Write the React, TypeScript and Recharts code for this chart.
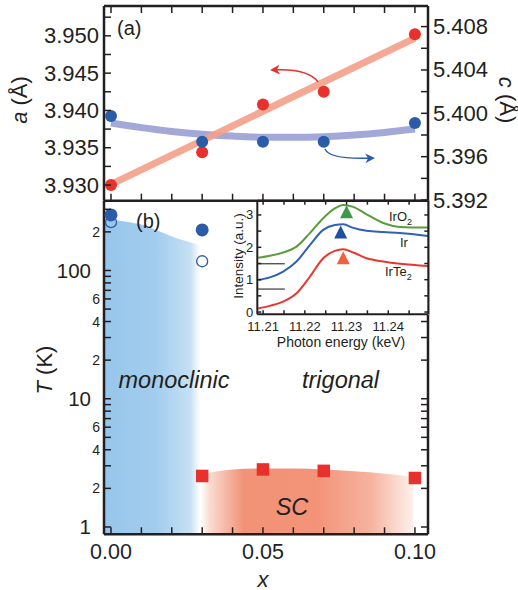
import React from 'react';
import { ComposedChart, Line, Scatter, Area, XAxis, YAxis, ReferenceLine } from 'recharts';

const FONT = '"Liberation Sans", Arial, Helvetica, sans-serif';
const INK = '#231f20';

// ---- (a) lattice constants vs x ----
const xDoping = [0, 0.03, 0.05, 0.07, 0.1];
const aLattice = [3.93, 3.9344, 3.9408, 3.9425, 3.9502];
const cLattice = [5.39975, 5.39738, 5.39738, 5.39738, 5.3991];
const aFitX = [0, 0.1];
const aFitVals = [3.9301, 3.9497];
const cFitX = [0, 0.01, 0.02, 0.03, 0.04, 0.05, 0.06, 0.07, 0.08, 0.09, 0.1];
const cFitVals = [5.3991, 5.39868, 5.39833, 5.39807, 5.3979, 5.3978, 5.39779, 5.39785, 5.398, 5.39824, 5.39855];

const xTicks = [0, 0.01, 0.02, 0.03, 0.04, 0.05, 0.06, 0.07, 0.08, 0.09, 0.1];
const aTicks = [3.93, 3.9325, 3.935, 3.9375, 3.94, 3.9425, 3.945, 3.9475, 3.95, 3.9525];
const cTicks = [5.392, 5.394, 5.396, 5.398, 5.4, 5.402, 5.404, 5.406, 5.408];

// ---- (b) phase diagram ----
const tsX = [0, 0.03];
const tsFilled = [271, 207];
const tsOpen = [238, 118];
const tcX = [0.03, 0.05, 0.07, 0.1];
const tcVals = [2.5, 2.81, 2.74, 2.41];
const monoX = [-0.0023, 0.0052, 0.0106, 0.0161, 0.0216, 0.0271, 0.0293];
const monoTop = [251, 240, 226, 201, 178, 163, 158];
const scX = [0.0295, 0.035, 0.04, 0.05, 0.06, 0.07, 0.085, 0.0995];
const scTop = [2.56, 2.72, 2.81, 2.86, 2.86, 2.81, 2.67, 2.46];
const tTicks = [1, 2, 3, 4, 5, 6, 7, 8, 9, 10, 20, 30, 40, 50, 60, 70, 80, 90, 100, 200, 300];
const tLabels: Record<number, string> = { 1: '1', 2: '2', 4: '4', 6: '6', 10: '10', 20: '2', 40: '4', 60: '6', 100: '100', 200: '2' };
const T_MIN = 0.877;

// ---- inset XAS spectra ----
const energy = [11.2088, 11.2116, 11.2148, 11.218, 11.2212, 11.2244, 11.2272, 11.2292, 11.2316, 11.2348, 11.2388, 11.2428, 11.2496];
const irO2 = [1.68, 1.74, 1.84, 2.02, 2.44, 2.9, 3.2, 3.31, 3.25, 3.02, 2.75, 2.63, 2.61];
const irMetal = [0.99, 1.07, 1.25, 1.56, 2.07, 2.54, 2.69, 2.71, 2.6, 2.51, 2.47, 2.44, 2.35];
const irTe2 = [0.11, 0.19, 0.32, 0.58, 1.09, 1.66, 1.89, 1.94, 1.84, 1.66, 1.56, 1.49, 1.42];
const peakE = [11.23, 11.2286, 11.2292];
const peakI = [3.08, 2.46, 1.66];
const peakColors = ['#3d9b47', '#1f4f9e', '#f0603c'];
const offsetLevels = [1.49, 0.71];
const eTicks = [11.21, 11.215, 11.22, 11.225, 11.23, 11.235, 11.24, 11.245];
const iTicks = [0, 0.5, 1, 1.5, 2, 2.5, 3];

const pts = (xs: number[], ys: number[]) => xs.map((x, i) => ({ x, y: ys[i] }));
const isMult = (v: number, step: number) => Math.abs(v / step - Math.round(v / step)) < 1e-6;

type Side = 'left' | 'right' | 'top' | 'bottom';
type Lab = { text: string; size: number; gap: number } | null;

// inward tick marks; labels (if any) sit outside the frame
const makeTick = (side: Side, len: number, label?: (v: number) => Lab) => (props: any) => {
  const { x, y, payload } = props;
  const v = payload.value as number;
  let line;
  if (side === 'left') line = <line x1={x} y1={y} x2={x + len} y2={y} stroke={INK} strokeWidth={1.5} />;
  else if (side === 'right') line = <line x1={x} y1={y} x2={x - len} y2={y} stroke={INK} strokeWidth={1.5} />;
  else if (side === 'top') line = <line x1={x} y1={y} x2={x} y2={y + len} stroke={INK} strokeWidth={1.5} />;
  else line = <line x1={x} y1={y} x2={x} y2={y - len} stroke={INK} strokeWidth={1.5} />;
  const l = label ? label(v) : null;
  let text = null;
  if (l) {
    const common = { fill: INK, fontSize: l.size, fontFamily: FONT, dominantBaseline: 'central' as const };
    if (side === 'left') text = <text x={x - l.gap} y={y} textAnchor="end" {...common}>{l.text}</text>;
    else if (side === 'right') text = <text x={x + l.gap} y={y} textAnchor="start" {...common}>{l.text}</text>;
    else if (side === 'bottom') text = <text x={x} y={y + l.gap} textAnchor="middle" {...common}>{l.text}</text>;
  }
  return <g>{line}{text}</g>;
};

const dot = (fill: string, r: number) => (p: any) => <circle cx={p.cx} cy={p.cy} r={r} fill={fill} />;
const ring = (stroke: string, r: number) => (p: any) => <circle cx={p.cx} cy={p.cy} r={r} fill="none" stroke={stroke} strokeWidth={1.3} />;
const square = (fill: string, s: number) => (p: any) => <rect x={p.cx - s / 2} y={p.cy - s / 2} width={s} height={s} fill={fill} />;
const triangle = (p: any) => {
  const c = peakColors[p.index % peakColors.length];
  return <polygon points={`${p.cx},${p.cy - 7} ${p.cx - 6.5},${p.cy + 6} ${p.cx + 6.5},${p.cy + 6}`} fill={c} />;
};

const axisLine = { stroke: INK, strokeWidth: 2.5 };
const thinAxis = { stroke: INK, strokeWidth: 2 };
const X_DOMAIN: [number, number] = [-0.0023, 0.1043];

const TopPanel = () => (
  <ComposedChart width={518} height={590} margin={{ top: 5, left: 103, right: 89, bottom: 388.3 }}>
    <XAxis xAxisId="b" type="number" dataKey="x" domain={X_DOMAIN} ticks={xTicks} interval={0} allowDataOverflow
      height={1} tickSize={0} tickMargin={0} axisLine={axisLine} tick={makeTick('bottom', 7)} />
    <XAxis xAxisId="t" orientation="top" type="number" dataKey="x" domain={X_DOMAIN} ticks={xTicks} interval={0} allowDataOverflow
      height={1} tickSize={0} tickMargin={0} axisLine={axisLine} tick={makeTick('top', 7)} />
    <YAxis yAxisId="a" type="number" domain={[3.9279, 3.954]} ticks={aTicks} interval={0} allowDataOverflow
      width={1} tickSize={0} tickMargin={0} axisLine={axisLine}
      tick={makeTick('left', 7, v => (isMult(v, 0.005) ? { text: v.toFixed(3), size: 22, gap: 5 } : null))} />
    <YAxis yAxisId="c" orientation="right" type="number" domain={[5.39194, 5.4099]} ticks={cTicks} interval={0} allowDataOverflow
      width={1} tickSize={0} tickMargin={0} axisLine={axisLine}
      tick={makeTick('right', 7, v => (isMult(v, 0.004) ? { text: v.toFixed(3), size: 22, gap: 5 } : null))} />
    <Line xAxisId="b" yAxisId="c" data={pts(cFitX, cFitVals)} dataKey="y" type="monotone" stroke="#a2a9d9" strokeWidth={7} dot={false} isAnimationActive={false} />
    <Line xAxisId="b" yAxisId="a" data={pts(aFitX, aFitVals)} dataKey="y" type="linear" stroke="#f4a088" strokeOpacity={0.9} strokeWidth={7} dot={false} isAnimationActive={false} />
    <Scatter xAxisId="b" yAxisId="a" data={pts(xDoping, aLattice)} dataKey="y" shape={dot('#e8302c', 6)} isAnimationActive={false} />
    <Scatter xAxisId="b" yAxisId="c" data={pts(xDoping, cLattice)} dataKey="y" shape={dot('#2b5ca8', 6)} isAnimationActive={false} />
  </ComposedChart>
);

const BottomPanel = () => (
  <ComposedChart width={518} height={590} margin={{ top: 200.7, left: 103, right: 89, bottom: 54.7 }}>
    <defs>
      <linearGradient id="monoFill" x1="0" y1="0" x2="1" y2="0">
        <stop offset="0" stopColor="#96c6eb" />
        <stop offset="0.55" stopColor="#a3cdee" />
        <stop offset="0.9" stopColor="#c6e0f4" />
        <stop offset="1" stopColor="#ffffff" />
      </linearGradient>
      <linearGradient id="scFill" x1="0" y1="0" x2="1" y2="0">
        <stop offset="0" stopColor="#ffffff" />
        <stop offset="0.04" stopColor="#fbdcd2" />
        <stop offset="0.2" stopColor="#f29378" />
        <stop offset="0.55" stopColor="#f39479" />
        <stop offset="0.8" stopColor="#f6b39f" />
        <stop offset="1" stopColor="#fdf1ec" />
      </linearGradient>
    </defs>
    <XAxis type="number" dataKey="x" domain={X_DOMAIN} ticks={xTicks} interval={0} allowDataOverflow
      height={1} tickSize={0} tickMargin={0} axisLine={axisLine}
      tick={makeTick('bottom', 7, v => (isMult(v, 0.05) ? { text: v.toFixed(2), size: 21.5, gap: 18 } : null))} />
    <YAxis yAxisId="l" type="number" scale="log" domain={[T_MIN, 350]} ticks={tTicks} interval={0} allowDataOverflow
      width={1} tickSize={0} tickMargin={0} axisLine={axisLine}
      tick={makeTick('left', 7, v => {
        const t = tLabels[v];
        if (!t) return null;
        const big = v === 1 || v === 10 || v === 100;
        return { text: t, size: big ? 20.5 : 14, gap: big ? 13 : 4 };
      })} />
    <YAxis yAxisId="r" orientation="right" type="number" scale="log" domain={[T_MIN, 350]} ticks={tTicks} interval={0} allowDataOverflow
      width={1} tickSize={0} tickMargin={0} axisLine={axisLine} tick={makeTick('right', 7)} />
    <Area yAxisId="l" data={monoX.map((x, i) => ({ x, band: [T_MIN, monoTop[i]] }))} dataKey="band" type="monotone"
      stroke="none" fill="url(#monoFill)" fillOpacity={1} isAnimationActive={false} />
    <Area yAxisId="l" data={scX.map((x, i) => ({ x, band: [T_MIN, scTop[i]] }))} dataKey="band" type="monotone"
      stroke="none" fill="url(#scFill)" fillOpacity={1} isAnimationActive={false} />
    <Scatter yAxisId="l" data={pts(tsX, tsOpen)} dataKey="y" shape={ring('#2b5ca8', 5.5)} isAnimationActive={false} />
    <Scatter yAxisId="l" data={pts(tsX, tsFilled)} dataKey="y" shape={dot('#2b5ca8', 6.5)} isAnimationActive={false} />
    <Scatter yAxisId="l" data={pts(tcX, tcVals)} dataKey="y" shape={square('#e8302c', 12.5)} isAnimationActive={false} />
  </ComposedChart>
);

const E_DOMAIN: [number, number] = [11.2086, 11.2496];

const Inset = () => (
  <ComposedChart width={518} height={590} margin={{ top: 199.7, left: 256.3, right: 88.7, bottom: 274.7 }}>
    <XAxis xAxisId="b" type="number" dataKey="x" domain={E_DOMAIN} ticks={eTicks} interval={0} allowDataOverflow
      height={1} tickSize={0} tickMargin={0} axisLine={thinAxis}
      tick={makeTick('bottom', 4, v => (isMult(v - 11.2, 0.01) ? { text: v.toFixed(2), size: 13, gap: 12 } : null))} />
    <XAxis xAxisId="t" orientation="top" type="number" dataKey="x" domain={E_DOMAIN} ticks={eTicks} interval={0} allowDataOverflow
      height={1} tickSize={0} tickMargin={0} axisLine={thinAxis} tick={makeTick('top', 4)} />
    <YAxis yAxisId="l" type="number" domain={[-0.07, 3.44]} ticks={iTicks} interval={0} allowDataOverflow
      width={1} tickSize={0} tickMargin={0} axisLine={thinAxis}
      tick={makeTick('left', 4, v => (isMult(v, 1) ? { text: String(v), size: 13, gap: 4 } : null))} />
    <YAxis yAxisId="r" orientation="right" type="number" domain={[-0.07, 3.44]} ticks={iTicks} interval={0} allowDataOverflow
      width={1} tickSize={0} tickMargin={0} axisLine={thinAxis} tick={makeTick('right', 4)} />
    {offsetLevels.map(lv => (
      <ReferenceLine key={lv} xAxisId="b" yAxisId="l" segment={[{ x: 11.2086, y: lv }, { x: 11.2152, y: lv }]} stroke="#111" strokeWidth={1} />
    ))}
    <Line xAxisId="b" yAxisId="l" data={pts(energy, irO2)} dataKey="y" type="monotone" stroke="#5b9c3c" strokeWidth={2} dot={false} isAnimationActive={false} />
    <Line xAxisId="b" yAxisId="l" data={pts(energy, irMetal)} dataKey="y" type="monotone" stroke="#2f62b6" strokeWidth={2} dot={false} isAnimationActive={false} />
    <Line xAxisId="b" yAxisId="l" data={pts(energy, irTe2)} dataKey="y" type="monotone" stroke="#e8362f" strokeWidth={2} dot={false} isAnimationActive={false} />
    <Scatter xAxisId="b" yAxisId="l" data={pts(peakE, peakI)} dataKey="y" shape={triangle} isAnimationActive={false} />
  </ComposedChart>
);

const Labels = () => (
  <svg width={518} height={590} style={{ position: 'absolute', left: 0, top: 0, pointerEvents: 'none' }} fontFamily={FONT} fill={INK}>
    <defs>
      <marker id="headR" viewBox="0 0 10 10" refX="8" refY="5" markerWidth="7" markerHeight="7" orient="auto">
        <path d="M0,0 L10,5 L0,10 L3,5 z" fill="#e8302c" />
      </marker>
      <marker id="headB" viewBox="0 0 10 10" refX="8" refY="5" markerWidth="7" markerHeight="7" orient="auto">
        <path d="M0,0 L10,5 L0,10 L3,5 z" fill="#2b5ca8" />
      </marker>
    </defs>
    <text x={117} y={35} fontSize={20}>(a)</text>
    <text x={136} y={228} fontSize={20}>(b)</text>
    <path d="M318,82 Q308,68 272,70" fill="none" stroke="#e8302c" strokeWidth={1.4} markerEnd="url(#headR)" />
    <path d="M325,149 Q330,160 373,158" fill="none" stroke="#2b5ca8" strokeWidth={1.4} markerEnd="url(#headB)" />
    <text transform="translate(19,100) rotate(-90)" textAnchor="middle" dominantBaseline="central" fontSize={22}>
      <tspan fontStyle="italic">a</tspan> (Å)
    </text>
    <text transform="translate(507,100) rotate(90)" textAnchor="middle" dominantBaseline="central" fontSize={22}>
      <tspan fontStyle="italic">c</tspan> (Å)
    </text>
    <text transform="translate(44,370) rotate(-90)" textAnchor="middle" dominantBaseline="central" fontSize={22}>
      <tspan fontStyle="italic">T</tspan> (K)
    </text>
    <text x={263} y={579} textAnchor="middle" dominantBaseline="central" fontSize={22} fontStyle="italic">x</text>
    <text x={174} y={388} textAnchor="middle" fontSize={23.5} fontStyle="italic">monoclinic</text>
    <text x={302} y={388} fontSize={23.5} fontStyle="italic">trigonal</text>
    <text x={292} y={515} textAnchor="middle" fontSize={23.5} fontStyle="italic">SC</text>
    <text x={389} y={221} fontSize={13}>IrO<tspan fontSize={9} dy={4}>2</tspan></text>
    <text x={400} y={247} fontSize={13}>Ir</text>
    <text x={385} y={276} fontSize={13}>IrTe<tspan fontSize={9} dy={4}>2</tspan></text>
    <text x={341} y={342} textAnchor="middle" dominantBaseline="central" fontSize={14}>Photon energy (keV)</text>
    <text transform="translate(238,256) rotate(-90)" textAnchor="middle" dominantBaseline="central" fontSize={13.5}>Intensity (a.u.)</text>
  </svg>
);

export default function App() {
  return (
    <div style={{ position: 'absolute', left: 0, top: 0, width: 518, height: 590, background: '#fff', fontFamily: FONT }}>
      <div style={{ position: 'absolute', left: 0, top: 0 }}><BottomPanel /></div>
      <div style={{ position: 'absolute', left: 257, top: 200, width: 172, height: 115, background: '#fff' }} />
      <div style={{ position: 'absolute', left: 0, top: 0 }}><Inset /></div>
      <div style={{ position: 'absolute', left: 0, top: 0 }}><TopPanel /></div>
      <Labels />
    </div>
  );
}
